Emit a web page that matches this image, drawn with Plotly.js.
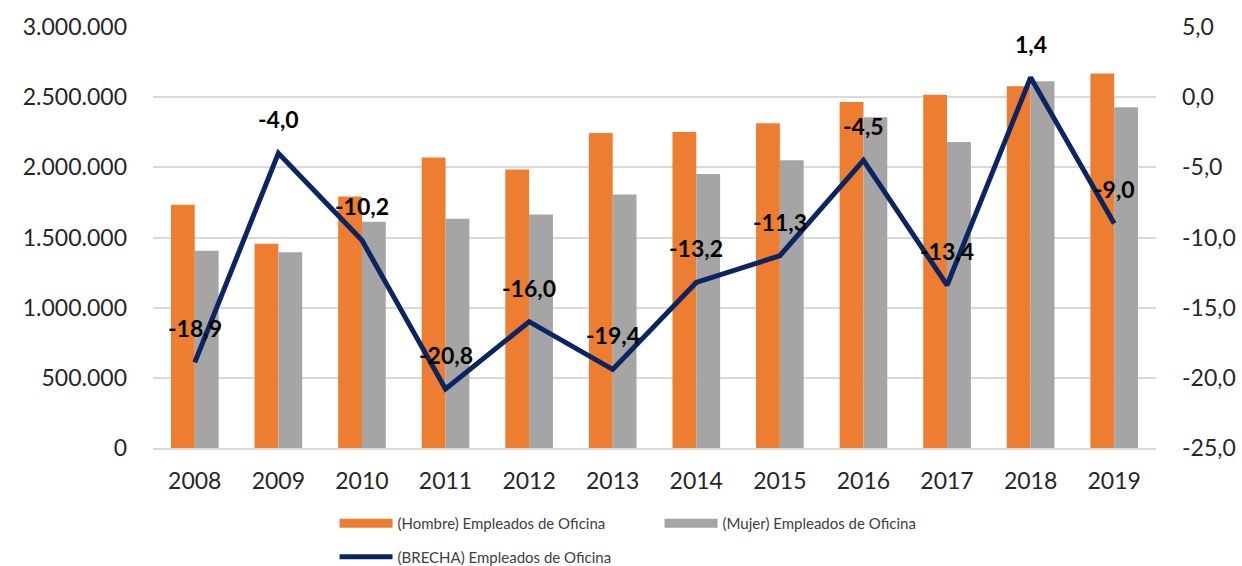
<!DOCTYPE html>
<html>
<head>
<meta charset="utf-8">
<script src="https://cdn.plot.ly/plotly-3.0.1.min.js"></script>
<style>html,body{margin:0;padding:0;background:#fff;}#chart{width:1242px;height:566px;}</style>
</head>
<body>
<div id="chart"></div>
<script>
const years = ['2008','2009','2010','2011','2012','2013','2014','2015','2016','2017','2018','2019'];
const hombre = [1734000,1455000,1793000,2070000,1984000,2244000,2251000,2315000,2466000,2518000,2578000,2668000];
const mujer = [1405000,1395000,1612000,1634000,1664000,1807000,1953000,2051000,2356000,2180000,2614000,2428000];
const brecha = [-18.9,-4.0,-10.2,-20.8,-16.0,-19.4,-13.2,-11.3,-4.5,-13.4,1.4,-9.0];
const brechaTicks = [-25,-20,-15,-10,-5,0,5];
const nameH = '(Hombre) Empleados de Oficina';
const nameM = '(Mujer) Empleados de Oficina';
const nameB = '(BRECHA) Empleados de Oficina';

const cOrange = '#ED7D31', cGray = '#A5A5A5', cNavy = '#0B2563';
const font = 'Lato, "Open Sans", sans-serif';

const fmt = v => v.toFixed(1).replace('.', ',');

const traces = [
  {type:'bar', x:years, y:hombre, name:nameH, marker:{color:cOrange}, showlegend:false, hoverinfo:'skip'},
  {type:'bar', x:years, y:mujer, name:nameM, marker:{color:cGray}, showlegend:false, hoverinfo:'skip'},
  {type:'scatter', mode:'lines', x:years, y:brecha, yaxis:'y2', name:nameB, line:{color:cNavy, width:5}, showlegend:false, hoverinfo:'skip'},
  // legend-only entries
  {type:'scatter', mode:'lines', x:[years[0]], y:[null], name:nameH, line:{color:cOrange, width:9}, legend:'legend'},
  {type:'scatter', mode:'lines', x:[years[0]], y:[null], name:nameM, line:{color:cGray, width:9}, legend:'legend'},
  {type:'scatter', mode:'lines', x:[years[0]], y:[null], yaxis:'y2', name:nameB, line:{color:cNavy, width:5}, legend:'legend2'}
];

// category axis: annotation x uses the category's serial index
const annotations = years.map((yr, i) => ({
  x: i, y: brecha[i], xref:'x', yref:'y2', text: fmt(brecha[i]),
  showarrow:false, yshift:34, font:{family:font, size:23, color:'#000', weight:'bold'}
}));

const layout = {
  width:1242, height:566,
  margin:{l:153, r:86, t:27, b:118},
  paper_bgcolor:'#fff', plot_bgcolor:'#fff',
  separators:',.',
  barmode:'group', bargap:0.43, bargroupgap:0,
  font:{family:font, color:'#262626'},
  xaxis:{type:'category', categoryorder:'array', categoryarray:years, range:[-0.5, years.length-0.5],
         showgrid:false, showline:true, linecolor:'#D9D9D9', linewidth:2,
         tickfont:{size:23, color:'#262626'}, ticks:'', ticklabelstandoff:11},
  yaxis:{range:[0,3000000], dtick:500000, tickformat:',d', gridcolor:'#D9D9D9', gridwidth:2,
         zeroline:false, tickfont:{size:23, color:'#262626'}, ticks:'', ticklabelstandoff:25},
  yaxis2:{range:[-25,5], tickmode:'array', tickvals:brechaTicks, ticktext:brechaTicks.map(fmt),
          overlaying:'y', side:'right', showgrid:false,
          zeroline:false, tickfont:{size:23, color:'#262626'}, ticks:'', ticklabelstandoff:25},
  legend:{orientation:'h', xref:'paper', yref:'container', x:0.181, y:(566-523.5)/566, xanchor:'left', yanchor:'middle',
          entrywidth:257, entrywidthmode:'pixels', itemwidth:53,
          font:{family:font, size:15, color:'#404040'}, bgcolor:'rgba(0,0,0,0)'},
  legend2:{orientation:'h', xref:'paper', yref:'container', x:0.181, y:(566-557)/566, xanchor:'left', yanchor:'middle', itemwidth:53,
          font:{family:font, size:15, color:'#404040'}, bgcolor:'rgba(0,0,0,0)'},
  annotations: annotations
};

Plotly.newPlot('chart', traces, layout, {displayModeBar:false, staticPlot:true});
</script>
</body>
</html>
